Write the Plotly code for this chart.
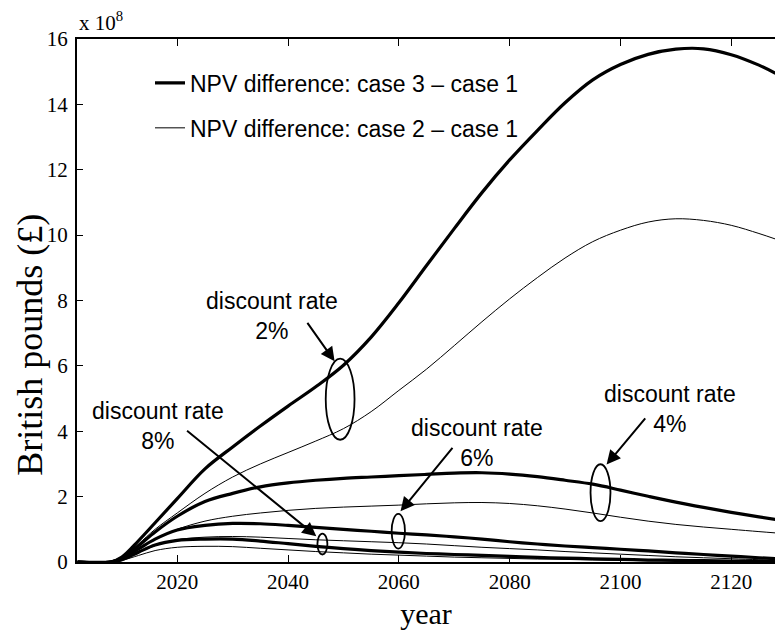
import plotly.graph_objects as go

# ---------------- data (values in units of 1e8 GBP) ----------------
years = [2002, 2008, 2010, 2013, 2016, 2020, 2025, 2030, 2035, 2040, 2045, 2050,
         2055, 2060, 2065, 2070, 2075, 2080, 2085, 2090, 2095, 2100, 2105, 2110,
         2115, 2120, 2125, 2128]

case3_r2 = [0, 0, 0.15, 0.65, 1.2, 1.94, 2.85, 3.52, 4.16, 4.77, 5.36, 6.02,
            6.88, 7.93, 9.07, 10.2, 11.3, 12.3, 13.2, 14.05, 14.75, 15.22, 15.53, 15.69,
            15.7, 15.52, 15.2, 14.95]
case2_r2 = [0, 0, 0.13, 0.55, 1.0, 1.5, 2.1, 2.6, 3.0, 3.35, 3.7, 4.08,
            4.6, 5.25, 5.9, 6.62, 7.35, 8.05, 8.7, 9.3, 9.8, 10.15, 10.4, 10.5,
            10.45, 10.3, 10.05, 9.88]
case3_r4 = [0, 0, 0.12, 0.5, 0.92, 1.4, 1.85, 2.1, 2.3, 2.42, 2.5, 2.56,
            2.6, 2.64, 2.68, 2.72, 2.73, 2.69, 2.61, 2.5, 2.38, 2.2, 2.01, 1.83,
            1.67, 1.52, 1.38, 1.3]
case2_r4 = [0, 0, 0.1, 0.4, 0.7, 1.0, 1.25, 1.4, 1.5, 1.58, 1.64, 1.68,
            1.71, 1.74, 1.78, 1.81, 1.82, 1.79, 1.72, 1.62, 1.5, 1.37, 1.25, 1.15,
            1.07, 1.0, 0.93, 0.89]
case3_r6 = [0, 0, 0.1, 0.4, 0.7, 0.98, 1.12, 1.18, 1.17, 1.12, 1.06, 1.0,
            0.94, 0.88, 0.83, 0.77, 0.7, 0.62, 0.55, 0.49, 0.44, 0.39, 0.34, 0.28,
            0.23, 0.18, 0.13, 0.1]
case2_r6 = [0, 0, 0.07, 0.3, 0.5, 0.68, 0.76, 0.78, 0.76, 0.72, 0.68, 0.65,
            0.62, 0.59, 0.55, 0.5, 0.45, 0.41, 0.37, 0.32, 0.28, 0.24, 0.2, 0.16,
            0.13, 0.1, 0.07, 0.05]
case3_r8 = [0, 0, 0.07, 0.3, 0.52, 0.66, 0.7, 0.7, 0.64, 0.56, 0.48, 0.41,
            0.35, 0.3, 0.26, 0.23, 0.2, 0.17, 0.14, 0.12, 0.1, 0.08, 0.06, 0.05,
            0.04, 0.03, 0.02, 0.02]
case2_r8 = [0, 0, 0.05, 0.2, 0.35, 0.45, 0.48, 0.47, 0.42, 0.37, 0.32, 0.28,
            0.24, 0.21, 0.18, 0.15, 0.13, 0.11, 0.09, 0.08, 0.06, 0.05, 0.04, 0.03,
            0.03, 0.02, 0.02, 0.01]

x_ticks = [2020, 2040, 2060, 2080, 2100, 2120]
y_ticks = [0, 2, 4, 6, 8, 10, 12, 14, 16]

legend_case3 = "NPV difference: case 3 \u2013 case 1"
legend_case2 = "NPV difference: case 2 \u2013 case 1"

# ---------------- figure ----------------
SANS = "Liberation Sans, Arial, sans-serif"
SERIF = "Liberation Serif, Times New Roman, serif"

fig = go.Figure()

thick = dict(color="black", width=3.2, shape="spline", smoothing=1.0)
thin = dict(color="black", width=1.0, shape="spline", smoothing=1.0)

series = [
    (case3_r2, thick, "c3", True, legend_case3),
    (case2_r2, thin, "c2", True, legend_case2),
    (case3_r4, thick, "c3", False, legend_case3),
    (case2_r4, thin, "c2", False, legend_case2),
    (case3_r6, thick, "c3", False, legend_case3),
    (case2_r6, thin, "c2", False, legend_case2),
    (case3_r8, thick, "c3", False, legend_case3),
    (case2_r8, thin, "c2", False, legend_case2),
]
for vals, ln, grp, show, name in series:
    fig.add_trace(go.Scatter(x=years, y=vals, mode="lines", line=ln,
                             legendgroup=grp, showlegend=show, name=name,
                             hoverinfo="skip"))

# ellipses marking curve pairs
ellipses = [
    (2046.8, 2052.0, 3.74, 6.22),
    (2045.3, 2047.1, 0.23, 0.87),
    (2058.7, 2061.1, 0.41, 1.47),
    (2094.6, 2098.2, 1.25, 2.99),
]
for x0, x1, y0, y1 in ellipses:
    fig.add_shape(type="circle", xref="x", yref="y", x0=x0, x1=x1, y0=y0, y1=y1,
                  line=dict(color="black", width=1.8))

# labels and arrows
labels = [
    ("discount rate<br>2%", 2037.1, 7.53, (2043.3, 7.36), (2048.4, 6.14)),
    ("discount rate<br>8%", 2016.5, 4.17, (2021.5, 4.05), (2045.1, 0.79)),
    ("discount rate<br>6%", 2074.1, 3.65, (2069.9, 3.54), (2060.3, 1.55)),
    ("discount rate<br>4%", 2108.9, 4.69, (2104.7, 4.44), (2097.5, 2.98)),
]
for txt, tx, ty, tail, tip in labels:
    fig.add_annotation(x=tx, y=ty, xref="x", yref="y", text=txt, showarrow=False,
                       xanchor="center", yanchor="middle",
                       font=dict(family=SANS, size=23, color="black"))
    fig.add_annotation(x=tip[0], y=tip[1], xref="x", yref="y",
                       ax=tail[0], ay=tail[1], axref="x", ayref="y",
                       text="", showarrow=True, arrowhead=2, arrowsize=1.4,
                       arrowwidth=2, arrowcolor="black", standoff=0)

# exponent label
fig.add_annotation(x=0, y=1.0, xref="paper", yref="paper", xanchor="left",
                   yanchor="bottom", yshift=2,
                   text="x 10<sup>8</sup>", showarrow=False,
                   font=dict(family=SERIF, size=21, color="black"))

# y-axis title (positioned below center as in reference)
fig.add_annotation(x=-0.0673, y=0.4155, xref="paper", yref="paper",
                   text="British pounds (\u00a3)", textangle=-90, showarrow=False,
                   xanchor="center", yanchor="middle",
                   font=dict(family=SERIF, size=36, color="black"))

fig.update_layout(
    width=775, height=630,
    margin=dict(l=77, r=0, t=39, b=67.5),
    paper_bgcolor="white", plot_bgcolor="white",
    showlegend=True,
    legend=dict(x=(150 - 77) / 698, y=0.957, xanchor="left", yanchor="top",
                traceorder="grouped", tracegroupgap=12,
                font=dict(family=SANS, size=23, color="black"),
                bgcolor="rgba(0,0,0,0)"),
    xaxis=dict(range=[2001.9, 2127.9], tickvals=x_ticks,
               ticks="inside", ticklen=7, tickwidth=1, tickcolor="black",
               showline=True, linecolor="black", linewidth=1.5, mirror="ticks",
               showgrid=False, zeroline=False,
               tickfont=dict(family=SERIF, size=21, color="black"),
               title=dict(text="year", standoff=10,
                          font=dict(family=SERIF, size=30, color="black"))),
    yaxis=dict(range=[0, 16], tickvals=y_ticks,
               ticks="inside", ticklen=6, tickwidth=1, tickcolor="black",
               showline=True, linecolor="black", linewidth=2, mirror=False,
               showgrid=False, zeroline=False, ticklabelstandoff=3,
               tickfont=dict(family=SERIF, size=21, color="black")),
)

fig.write_html("out.html")
